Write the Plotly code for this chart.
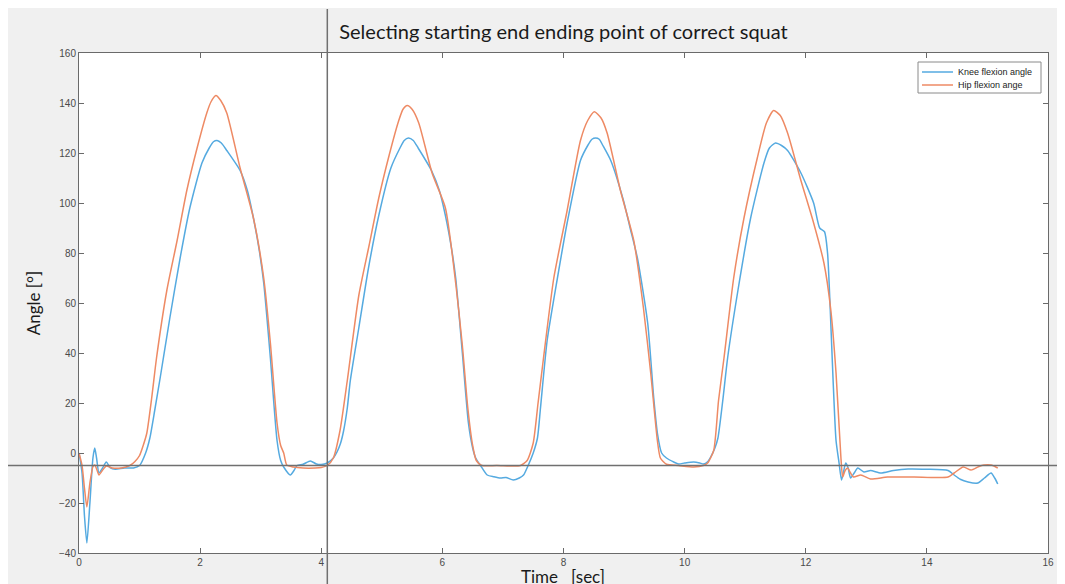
import plotly.graph_objects as go

knee_t = [0.00, 0.05, 0.09, 0.13, 0.18, 0.23, 0.26, 0.29, 0.33, 0.39, 0.45, 0.52, 0.60, 0.75, 0.90,
          1.00, 1.10, 1.17, 1.25, 1.34, 1.50, 1.67, 1.83, 2.03, 2.15, 2.22, 2.28, 2.35, 2.44, 2.66, 2.78, 2.88,
          2.97, 3.05, 3.16, 3.27, 3.33, 3.38, 3.49, 3.55, 3.60, 3.70, 3.82, 3.92, 4.00, 4.10, 4.20,
          4.26, 4.32, 4.37, 4.43, 4.48, 4.62, 4.78, 4.95, 5.15, 5.30, 5.37, 5.44, 5.52, 5.60, 5.82, 5.95, 6.05,
          6.15, 6.22, 6.33, 6.43, 6.50, 6.55, 6.63, 6.74, 6.85, 6.96, 7.05, 7.17, 7.27, 7.34, 7.42,
          7.50, 7.57, 7.62, 7.73, 7.90, 8.06, 8.28, 8.40, 8.47, 8.53, 8.59, 8.65, 8.78, 8.99, 9.10, 9.22, 9.39,
          9.49, 9.55, 9.62, 9.70, 9.82, 9.90, 10.00, 10.15, 10.25, 10.31, 10.38, 10.43, 10.50, 10.55,
          10.63, 10.71, 10.88, 11.09, 11.31, 11.40, 11.50, 11.60, 11.70, 11.92, 12.13, 12.23, 12.31, 12.36, 12.40,
          12.45, 12.50, 12.55, 12.59, 12.62, 12.66, 12.70, 12.74, 12.80, 12.86, 12.96, 13.07, 13.24,
          13.45, 13.69, 14.00, 14.35, 14.45, 14.55, 14.68, 14.84, 14.95, 15.06, 15.12, 15.17]
knee_v = [0, -8, -25, -36, -20, -2, 2, -2, -8, -6, -3.6, -6, -6.5, -6, -6,
          -5, 0, 6, 17, 30, 54, 78, 98, 116, 122, 124.5, 125, 124, 121, 113, 105, 94,
          82, 68, 38, 5, -3, -5.6, -8.8, -7, -5, -4.5, -3.2, -4.4, -4.6, -4, -2,
          0.4, 4, 9, 18, 29, 50, 74, 95, 114, 122, 125, 126, 125, 122, 113, 105, 95,
          82, 70, 40, 12, 2, -2, -5, -8.8, -9.5, -10, -9.8, -10.8, -10, -8.8, -4.8,
          0, 6, 18, 45, 70, 92, 117, 123, 125.5, 126, 125.5, 123, 117, 101, 90, 78, 52,
          22, 8, 0, -2, -3.6, -4.4, -4, -3.6, -4, -4.4, -3.5, -1.6, 2, 6,
          21, 38, 65, 94, 116, 122, 124, 123, 121, 112, 100, 90, 88.5, 80, 60,
          30, 5, -4, -10.8, -8, -4, -6, -10, -8, -6, -7.6, -7, -8,
          -7, -6.4, -6.5, -7, -8.8, -10.5, -11.6, -12, -10, -8, -10, -12.4]

hip_t = [0.00, 0.05, 0.09, 0.13, 0.18, 0.23, 0.26, 0.30, 0.33, 0.40, 0.45, 0.55, 0.70, 0.84, 0.92,
         1.00, 1.06, 1.12, 1.20, 1.28, 1.45, 1.62, 1.78, 1.95, 2.11, 2.18, 2.26, 2.34, 2.44, 2.66, 2.88, 3.05,
         3.16, 3.27, 3.33, 3.38, 3.43, 3.54, 3.70, 3.90, 4.00, 4.10, 4.20, 4.31, 4.43, 4.62, 4.79,
         4.95, 5.12, 5.28, 5.35, 5.42, 5.50, 5.61, 5.83, 6.05, 6.22, 6.33, 6.42, 6.50, 6.56, 6.65, 6.90, 7.15,
         7.29, 7.40, 7.50, 7.58, 7.67, 7.84, 8.06, 8.28, 8.40, 8.51, 8.62, 8.72, 8.94, 9.16, 9.32, 9.44, 9.55,
         9.60, 9.70, 9.90, 10.15, 10.31, 10.38, 10.48, 10.56, 10.65, 10.81, 10.98, 11.20, 11.35, 11.47, 11.58, 11.70,
         11.92, 12.13, 12.30, 12.41, 12.50, 12.58, 12.61, 12.65, 12.69, 12.74, 12.79, 12.91, 13.07,
         13.35, 13.79, 14.35, 14.45, 14.60, 14.73, 14.85, 14.94, 15.06, 15.17]
hip_v = [0, -5, -14, -21.6, -12, -5.5, -4.8, -7, -8.8, -6.5, -5.2, -6, -6, -5, -3.5,
         -1, 3, 8, 22, 38, 65, 85, 105, 122, 136, 140.5, 143, 141, 136, 114, 94, 70,
         44, 12, 3, 0, -4.8, -5.6, -6, -6, -5.8, -5, -2, 9, 29, 63, 83,
         102, 119, 133, 137.5, 139, 137.5, 132, 112, 98, 68, 43, 18, 3, -3, -5, -5, -5.2,
         -5, -3, 4, 20, 38, 70, 97, 125, 133, 136.5, 134, 128, 105, 85, 58, 32, 5,
         -2, -4.5, -5, -5.6, -5, -4, 1, 21, 38, 70, 94, 118, 132, 137, 135, 128,
         109, 92, 76, 58, 32, -1.6, -9.6, -7, -6, -8, -9.6, -8.8, -10.4,
         -9.6, -9.6, -9.6, -8, -5.6, -6.8, -5.5, -4.8, -4.8, -6]

series_names = ["Knee flexion angle", "Hip flexion ange"]

cursor_t = 4.1
cursor_v = -5

x_ticks = [0, 2, 4, 6, 8, 10, 12, 14, 16]
y_ticks = [-40, -20, 0, 20, 40, 60, 80, 100, 120, 140, 160]

BLUE = "#55aae0"
ORANGE = "#ee8a64"
AX = "#6a6a6a"

# page has an 8px body margin; figure is sized to fit the 1065x584 window
OFF = 8
FW, FH = 1065 - OFF, 584 - OFF
# plot area in screen pixels: left 79, right 1048, top 53, bottom 553
PW, PH = 969, 500


def px(xpix):
    return (xpix - 79) / PW


def py(ypix):
    return (553 - ypix) / PH


fig = go.Figure()
fig.add_trace(go.Scatter(x=knee_t, y=knee_v, mode="lines", name=series_names[0], showlegend=False,
                         line=dict(color=BLUE, width=1.5, shape="spline", smoothing=0.6)))
fig.add_trace(go.Scatter(x=hip_t, y=hip_v, mode="lines", name=series_names[1], showlegend=False,
                         line=dict(color=ORANGE, width=1.5, shape="spline", smoothing=0.6)))

axis_common = dict(showgrid=False, zeroline=False, showline=True, linecolor=AX, linewidth=1,
                   mirror="ticks", ticks="inside", ticklen=5, tickcolor=AX, automargin=False,
                   tickfont=dict(family="Liberation Sans, Arial", size=10, color="#4a4a4a"))

fig.update_layout(
    width=FW, height=FH,
    margin=dict(l=79 - OFF, r=1065 - 1048, t=53 - OFF, b=584 - 553, autoexpand=False),
    paper_bgcolor="#f0f0f0", plot_bgcolor="white",
    title=dict(text="Selecting starting end ending point of correct squat",
               x=((79 + 1048) / 2 - OFF) / FW, xanchor="center", y=1 - (32 - OFF) / FH, yanchor="middle",
               font=dict(family="Lato, Open Sans", size=20, color="#1a1a1a")),
    xaxis=dict(range=[0, 16], tickvals=x_ticks, **axis_common),
    yaxis=dict(range=[-40, 160], tickvals=y_ticks, **axis_common,
               title=dict(text="Angle [°]", standoff=14,
                          font=dict(family="Lato, Open Sans", size=17, color="#1a1a1a"))),
    showlegend=False,
)

# x axis label (sits low, partly cut by the figure edge as in the original)
fig.add_annotation(text="Time\u00a0\u00a0\u00a0[sec]", xref="paper", yref="paper",
                   x=px(563), y=py(564), xanchor="center", yanchor="top", showarrow=False,
                   font=dict(family="Lato, Open Sans", size=17, color="#1a1a1a"))

# data cursor crosshair
fig.add_shape(type="line", xref="x", yref="paper", x0=cursor_t, x1=cursor_t, y0=py(600), y1=py(9),
              line=dict(color="#707070", width=1.5), layer="above")
fig.add_shape(type="line", xref="paper", yref="y", x0=px(8), x1=px(1070), y0=cursor_v, y1=cursor_v,
              line=dict(color="#707070", width=1.5), layer="above")

# legend box (MATLAB style, compact)
fig.add_shape(type="rect", xref="paper", yref="paper", x0=px(918), x1=px(1041), y0=py(93), y1=py(62),
              fillcolor="white", line=dict(color="#8a8a8a", width=1), layer="above")
for name, color, ypix in [(series_names[0], BLUE, 72), (series_names[1], ORANGE, 85)]:
    fig.add_shape(type="line", xref="paper", yref="paper", x0=px(922), x1=px(953), y0=py(ypix), y1=py(ypix),
                  line=dict(color=color, width=1.5), layer="above")
    fig.add_annotation(text=name, xref="paper", yref="paper", x=px(956), y=py(ypix),
                       xanchor="left", yanchor="middle", showarrow=False,
                       font=dict(family="Liberation Sans, Arial", size=9, color="#222222"))

fig.write_html("out.html")
